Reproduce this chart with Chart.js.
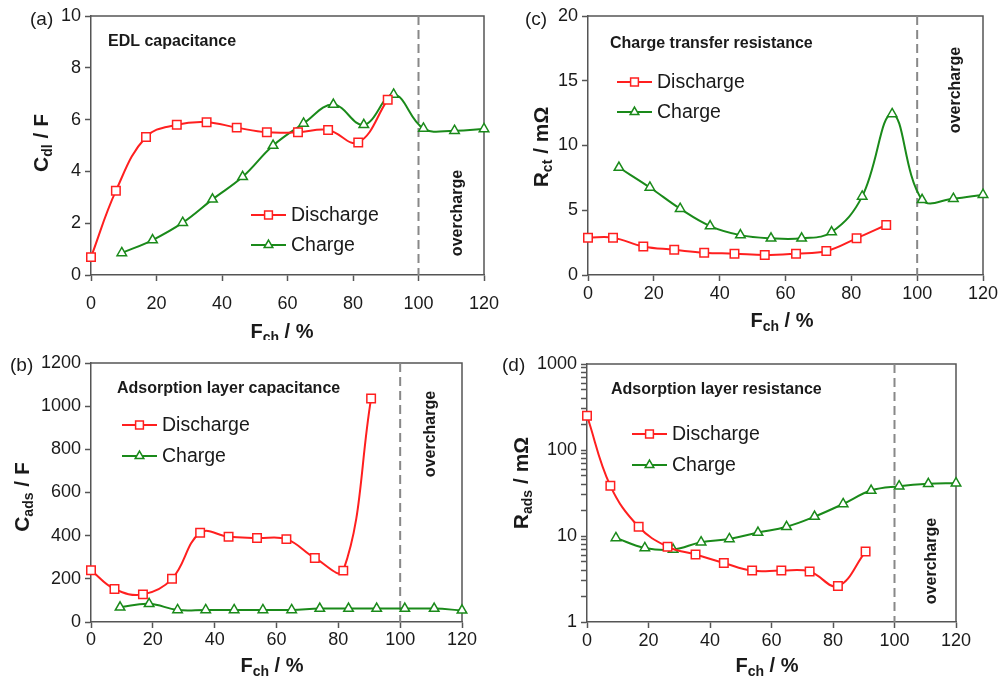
<!DOCTYPE html>
<html><head><meta charset="utf-8">
<script src="https://cdn.jsdelivr.net/npm/chart.js@4"></script>
<style>
body{margin:0;background:#fff;width:998px;height:678px;overflow:hidden;position:relative}
canvas{position:absolute}
</style></head><body>
<canvas id="ca" style="left:0;top:0;width:499px;height:340px" width="499" height="340"></canvas>
<canvas id="cc" style="left:499px;top:0;width:499px;height:340px" width="499" height="340"></canvas>
<canvas id="cb" style="left:0;top:340px;width:499px;height:338px" width="499" height="338"></canvas>
<canvas id="cd" style="left:499px;top:340px;width:499px;height:338px" width="499" height="338"></canvas>
<script>
// ---- data ----
const fchDischarge = [0, 7.6, 16.8, 26.2, 35.3, 44.5, 53.7, 63.2, 72.4, 81.6, 90.6];
const fchCharge = [9.4, 18.8, 28, 37.1, 46.3, 55.6, 64.9, 74, 83.3, 92.4, 101.5, 111, 120];
const cdlDischarge = [0.69, 3.25, 5.33, 5.8, 5.9, 5.69, 5.51, 5.51, 5.6, 5.12, 6.77];
const cdlCharge = [0.85, 1.35, 2.02, 2.92, 3.79, 5.0, 5.85, 6.58, 5.8, 6.97, 5.66, 5.57, 5.64];
const rctDischarge = [2.88, 2.88, 2.2, 1.95, 1.72, 1.65, 1.54, 1.65, 1.85, 2.83, 3.86];
const rctCharge = [8.3, 6.76, 5.12, 3.78, 3.08, 2.83, 2.83, 3.32, 6.07, 12.44, 5.81, 5.89, 6.2];
const cadsDischarge = [240, 153, 128, 200, 413, 395, 389, 384, 297, 238, 1036];
const cadsCharge = [68, 84, 56, 56, 56, 56, 56, 62, 62, 62, 62, 62, 54];
const radsDischarge = [250, 38.3, 12.8, 7.5, 6.08, 4.86, 3.96, 3.96, 3.86, 2.62, 6.59];
const radsCharge = [9.5, 7.27, 6.95, 8.46, 9.25, 10.96, 12.8, 16.8, 23.6, 33.8, 37.9, 40.4, 41.1];
const seriesLabels = ['Discharge', 'Charge'];
const logTicks = [1,2,3,4,5,6,7,8,9,10,20,30,40,50,60,70,80,90,100,200,300,400,500,600,700,800,900,1000];
const logLabelled = [1, 10, 100, 1000];
const overchargeAt = 100;

// ---- style ----
const FONT = '"Liberation Sans", Arial, Helvetica, sans-serif';
const RED = '#ff1f1f', GREEN = '#1a8a1a', AXIS = '#555555', TXT = '#1a1a1a';

function pts(xs, ys) { return xs.map((x, i) => ({ x: x, y: ys[i] })); }

function rich(ctx, parts, x, y, rot, align) {
  ctx.save();
  ctx.translate(x, y);
  if (rot) ctx.rotate(-Math.PI / 2);
  ctx.textBaseline = 'alphabetic';
  ctx.textAlign = 'left';
  let total = 0;
  parts.forEach(p => { ctx.font = (p.b ? 'bold ' : '') + p.s + 'px ' + FONT; p.w = ctx.measureText(p.t).width; total += p.w; });
  let cx = align === 'left' ? 0 : -total / 2;
  parts.forEach(p => { ctx.font = (p.b ? 'bold ' : '') + p.s + 'px ' + FONT; ctx.fillStyle = TXT; ctx.fillText(p.t, cx, p.dy || 0); cx += p.w; });
  ctx.restore();
}

function decor(cfg) {
  return {
    id: 'decor' + cfg.id,
    beforeDatasetsDraw(chart) {
      const ctx = chart.ctx, a = chart.chartArea, xs = chart.scales.x;
      ctx.save();
      ctx.strokeStyle = AXIS; ctx.lineWidth = 1.5;
      ctx.beginPath();
      ctx.moveTo(a.left, a.top); ctx.lineTo(a.right, a.top); ctx.lineTo(a.right, a.bottom);
      ctx.stroke();
      const px = xs.getPixelForValue(overchargeAt);
      ctx.strokeStyle = '#888888'; ctx.lineWidth = 2; ctx.setLineDash([9, 5]);
      ctx.beginPath(); ctx.moveTo(px, a.top); ctx.lineTo(px, a.bottom); ctx.stroke();
      ctx.restore();
    },
    afterDraw(chart) {
      const ctx = chart.ctx;
      rich(ctx, [{ t: cfg.panel, s: 19 }], cfg.panelPos[0], cfg.panelPos[1], false, 'left');
      rich(ctx, [{ t: cfg.title, s: 16, b: true }], cfg.titlePos[0], cfg.titlePos[1], false, 'left');
      rich(ctx, [{ t: 'overcharge', s: 16, b: true }], cfg.overPos[0], cfg.overPos[1], true, 'center');
      rich(ctx, cfg.xTitle, cfg.xTitlePos[0], cfg.xTitlePos[1], false, 'center');
      rich(ctx, cfg.yTitle, cfg.yTitlePos[0], cfg.yTitlePos[1], true, 'center');
      const L = cfg.legend;
      chart.data.datasets.forEach((ds, i) => {
        const y = L.y[i];
        ctx.save();
        ctx.strokeStyle = ds.borderColor; ctx.lineWidth = 2;
        ctx.beginPath(); ctx.moveTo(L.x1, y); ctx.lineTo(L.x2, y); ctx.stroke();
        ctx.fillStyle = '#fff'; ctx.lineWidth = 1.5;
        Chart.helpers.drawPoint(ctx, { pointStyle: ds.pointStyle, radius: ds.pointRadius - 0.5, borderWidth: 1.5, rotation: 0 }, (L.x1 + L.x2) / 2, y);
        ctx.restore();
        ctx.save();
        ctx.font = '19.5px ' + FONT; ctx.fillStyle = TXT; ctx.textBaseline = 'middle'; ctx.textAlign = 'left';
        ctx.fillText(ds.label, L.tx, y + 1);
        ctx.restore();
      });
    }
  };
}

function makeChart(cfg) {
  const yScale = cfg.log ? {
    type: 'logarithmic', min: 1, max: 1000,
    afterBuildTicks(s) { s.ticks = logTicks.map(v => ({ value: v })); },
    ticks: { autoSkip: false, callback: v => logLabelled.includes(v) ? String(v) : '', font: { family: FONT, size: 18 }, color: TXT, padding: 4 }
  } : {
    type: 'linear', min: cfg.yMin, max: cfg.yMax,
    ticks: { stepSize: cfg.yStep, callback: v => String(v), font: { family: FONT, size: 18 }, color: TXT, padding: 4 }
  };
  yScale.grid = { drawOnChartArea: false, tickLength: 6, tickColor: AXIS, tickWidth: 1.5 };
  yScale.border = { color: AXIS, width: 1.5 };
  yScale.afterFit = s => { s.width = cfg.yW; s.paddingTop = 0; s.paddingBottom = 0; };
  return new Chart(document.getElementById(cfg.id), {
    type: 'line',
    data: {
      datasets: [
        { label: seriesLabels[0], data: pts(fchDischarge, cfg.dis), borderColor: RED, backgroundColor: '#fff',
          pointStyle: 'rect', pointRadius: 6, pointBorderWidth: 1.5, pointBackgroundColor: '#fff', pointBorderColor: RED,
          borderWidth: 2, tension: 0.4, clip: false },
        { label: seriesLabels[1], data: pts(fchCharge, cfg.ch), borderColor: GREEN, backgroundColor: '#fff',
          pointStyle: 'triangle', pointRadius: 5.5, pointBorderWidth: 1.5, pointBackgroundColor: '#fff', pointBorderColor: GREEN,
          borderWidth: 2, tension: 0.4, clip: false }
      ]
    },
    options: {
      responsive: false, animation: false, devicePixelRatio: 1,
      layout: { padding: cfg.pad },
      plugins: { legend: { display: false }, tooltip: { enabled: false } },
      scales: {
        x: {
          type: 'linear', min: 0, max: 120,
          ticks: { stepSize: 20, callback: v => String(v), font: { family: FONT, size: 18 }, color: TXT, padding: cfg.xPad, maxRotation: 0 },
          grid: { drawOnChartArea: false, tickLength: 6, tickColor: AXIS, tickWidth: 1.5 },
          border: { color: AXIS, width: 1.5 },
          afterFit: s => { s.height = cfg.xH; s.paddingLeft = 0; s.paddingRight = 0; }
        },
        y: yScale
      }
    },
    plugins: [decor(cfg)]
  });
}

makeChart({
  id: 'ca', dis: cdlDischarge, ch: cdlCharge, yMin: 0, yMax: 10, yStep: 2,
  pad: { left: 0, right: 15, top: 16, bottom: 0 }, yW: 91, xH: 65, xPad: 12,
  panel: '(a)', panelPos: [30, 25], title: 'EDL capacitance', titlePos: [108, 46],
  overPos: [462, 213],
  xTitle: [{ t: 'F', s: 20, b: true }, { t: 'ch', s: 14, b: true, dy: 4 }, { t: ' / %', s: 20, b: true }], xTitlePos: [282, 338],
  yTitle: [{ t: 'C', s: 21, b: true }, { t: 'dl', s: 14, b: true, dy: 4 }, { t: ' / F', s: 21, b: true }], yTitlePos: [48, 143],
  legend: { x1: 251, x2: 286, y: [215, 245], tx: 291 }
});
makeChart({
  id: 'cc', dis: rctDischarge, ch: rctCharge, yMin: 0, yMax: 20, yStep: 5,
  pad: { left: 0, right: 15, top: 16, bottom: 0 }, yW: 89, xH: 65, xPad: 2,
  panel: '(c)', panelPos: [26, 25], title: 'Charge transfer resistance', titlePos: [111, 48],
  overPos: [461, 90],
  xTitle: [{ t: 'F', s: 20, b: true }, { t: 'ch', s: 14, b: true, dy: 4 }, { t: ' / %', s: 20, b: true }], xTitlePos: [283, 327],
  yTitle: [{ t: 'R', s: 21, b: true }, { t: 'ct', s: 14, b: true, dy: 4 }, { t: ' / m\u03A9', s: 21, b: true }], yTitlePos: [49, 147],
  legend: { x1: 118, x2: 153, y: [82, 112], tx: 158 }
});
makeChart({
  id: 'cb', dis: cadsDischarge, ch: cadsCharge, yMin: 0, yMax: 1200, yStep: 200,
  pad: { left: 0, right: 37, top: 23, bottom: 0 }, yW: 91, xH: 56, xPad: 1,
  panel: '(b)', panelPos: [10, 31], title: 'Adsorption layer capacitance', titlePos: [117, 53],
  overPos: [435, 94],
  xTitle: [{ t: 'F', s: 20, b: true }, { t: 'ch', s: 14, b: true, dy: 4 }, { t: ' / %', s: 20, b: true }], xTitlePos: [272, 332],
  yTitle: [{ t: 'C', s: 21, b: true }, { t: 'ads', s: 14, b: true, dy: 4 }, { t: ' / F', s: 21, b: true }], yTitlePos: [29, 157],
  legend: { x1: 122, x2: 157, y: [85, 116], tx: 162 }
});
makeChart({
  id: 'cd', dis: radsDischarge, ch: radsCharge, log: true,
  pad: { left: 0, right: 42, top: 24, bottom: 0 }, yW: 88, xH: 56, xPad: 2,
  panel: '(d)', panelPos: [3, 31], title: 'Adsorption layer resistance', titlePos: [112, 54],
  overPos: [437, 221],
  xTitle: [{ t: 'F', s: 20, b: true }, { t: 'ch', s: 14, b: true, dy: 4 }, { t: ' / %', s: 20, b: true }], xTitlePos: [268, 332],
  yTitle: [{ t: 'R', s: 21, b: true }, { t: 'ads', s: 14, b: true, dy: 4 }, { t: ' / m\u03A9', s: 21, b: true }], yTitlePos: [29, 143],
  legend: { x1: 133, x2: 168, y: [94, 125], tx: 173 }
});
</script>
</body></html>
